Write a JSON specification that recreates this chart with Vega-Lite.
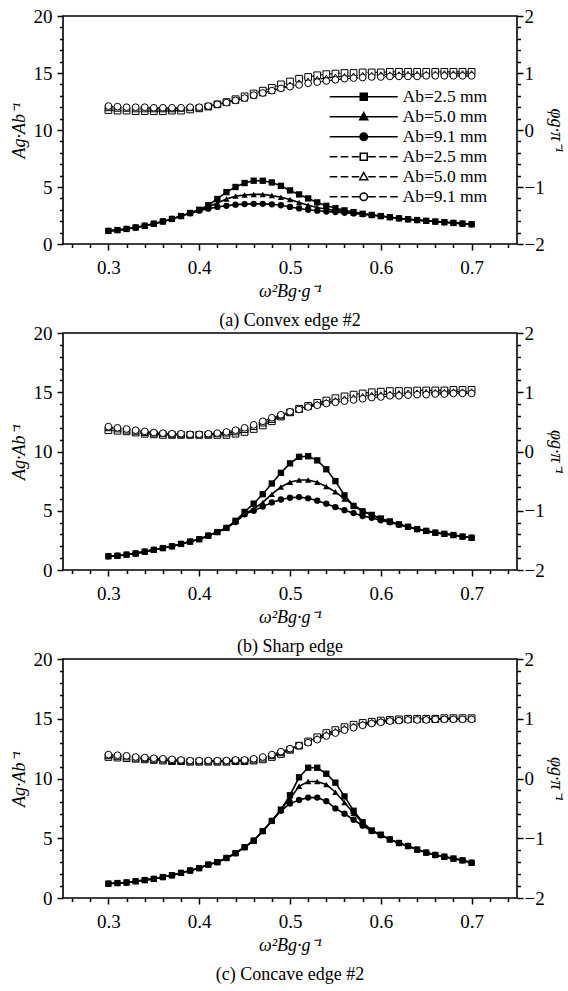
{
"$schema": "https://vega.github.io/schema/vega-lite/v6.json",
"padding": {"left": 9, "top": 6, "right": 3, "bottom": 4},
"background": "white",
"spacing": 89,
"bounds": "flush",
"config": {
  "font": "Liberation Serif",
  "view": {"stroke": "black", "strokeWidth": 1.6},
  "axis": {"zindex": 1, "ticks": true, "tickOpacity": 1, "labelFont": "Liberation Serif", "labelFontSize": 19, "labelColor": "black", "titleFont": "Liberation Serif", "titleFontSize": 18, "titleFontWeight": "normal", "titleFontStyle": "italic", "titleColor": "black", "domainColor": "black", "domainWidth": 1.6, "tickColor": "black", "tickWidth": 1.5, "grid": false},
  "legend": {"labelFont": "Liberation Serif", "labelColor": "black"}
},
"datasets": {
"a": [
{"s":"A2.5","x":0.3,"v":1.15},{"s":"A2.5","x":0.31,"v":1.22},{"s":"A2.5","x":0.32,"v":1.32},{"s":"A2.5","x":0.33,"v":1.45},{"s":"A2.5","x":0.34,"v":1.6},{"s":"A2.5","x":0.35,"v":1.78},{"s":"A2.5","x":0.36,"v":1.98},{"s":"A2.5","x":0.37,"v":2.2},{"s":"A2.5","x":0.38,"v":2.45},{"s":"A2.5","x":0.39,"v":2.72},{"s":"A2.5","x":0.4,"v":3.0},{"s":"A2.5","x":0.41,"v":3.4},{"s":"A2.5","x":0.42,"v":3.95},{"s":"A2.5","x":0.43,"v":4.55},{"s":"A2.5","x":0.44,"v":5.0},{"s":"A2.5","x":0.45,"v":5.35},{"s":"A2.5","x":0.46,"v":5.55},{"s":"A2.5","x":0.47,"v":5.55},{"s":"A2.5","x":0.48,"v":5.4},{"s":"A2.5","x":0.49,"v":5.1},{"s":"A2.5","x":0.5,"v":4.7},{"s":"A2.5","x":0.51,"v":4.35},{"s":"A2.5","x":0.52,"v":4.0},{"s":"A2.5","x":0.53,"v":3.65},{"s":"A2.5","x":0.54,"v":3.35},{"s":"A2.5","x":0.55,"v":3.15},{"s":"A2.5","x":0.56,"v":2.95},{"s":"A2.5","x":0.57,"v":2.8},{"s":"A2.5","x":0.58,"v":2.65},{"s":"A2.5","x":0.59,"v":2.55},{"s":"A2.5","x":0.6,"v":2.45},{"s":"A2.5","x":0.61,"v":2.35},{"s":"A2.5","x":0.62,"v":2.25},{"s":"A2.5","x":0.63,"v":2.17},{"s":"A2.5","x":0.64,"v":2.1},{"s":"A2.5","x":0.65,"v":2.03},{"s":"A2.5","x":0.66,"v":1.97},{"s":"A2.5","x":0.67,"v":1.91},{"s":"A2.5","x":0.68,"v":1.85},{"s":"A2.5","x":0.69,"v":1.79},{"s":"A2.5","x":0.7,"v":1.73},
{"s":"A5.0","x":0.3,"v":1.15},{"s":"A5.0","x":0.31,"v":1.22},{"s":"A5.0","x":0.32,"v":1.32},{"s":"A5.0","x":0.33,"v":1.45},{"s":"A5.0","x":0.34,"v":1.6},{"s":"A5.0","x":0.35,"v":1.78},{"s":"A5.0","x":0.36,"v":1.98},{"s":"A5.0","x":0.37,"v":2.2},{"s":"A5.0","x":0.38,"v":2.45},{"s":"A5.0","x":0.39,"v":2.72},{"s":"A5.0","x":0.4,"v":2.98},{"s":"A5.0","x":0.41,"v":3.25},{"s":"A5.0","x":0.42,"v":3.6},{"s":"A5.0","x":0.43,"v":3.95},{"s":"A5.0","x":0.44,"v":4.2},{"s":"A5.0","x":0.45,"v":4.3},{"s":"A5.0","x":0.46,"v":4.35},{"s":"A5.0","x":0.47,"v":4.35},{"s":"A5.0","x":0.48,"v":4.25},{"s":"A5.0","x":0.49,"v":4.1},{"s":"A5.0","x":0.5,"v":3.9},{"s":"A5.0","x":0.51,"v":3.65},{"s":"A5.0","x":0.52,"v":3.4},{"s":"A5.0","x":0.53,"v":3.2},{"s":"A5.0","x":0.54,"v":3.05},{"s":"A5.0","x":0.55,"v":2.95},{"s":"A5.0","x":0.56,"v":2.85},{"s":"A5.0","x":0.57,"v":2.75},{"s":"A5.0","x":0.58,"v":2.65},{"s":"A5.0","x":0.59,"v":2.55},{"s":"A5.0","x":0.6,"v":2.45},{"s":"A5.0","x":0.61,"v":2.35},{"s":"A5.0","x":0.62,"v":2.25},{"s":"A5.0","x":0.63,"v":2.17},{"s":"A5.0","x":0.64,"v":2.1},{"s":"A5.0","x":0.65,"v":2.03},{"s":"A5.0","x":0.66,"v":1.97},{"s":"A5.0","x":0.67,"v":1.91},{"s":"A5.0","x":0.68,"v":1.85},{"s":"A5.0","x":0.69,"v":1.79},{"s":"A5.0","x":0.7,"v":1.73},
{"s":"A9.1","x":0.3,"v":1.15},{"s":"A9.1","x":0.31,"v":1.22},{"s":"A9.1","x":0.32,"v":1.32},{"s":"A9.1","x":0.33,"v":1.45},{"s":"A9.1","x":0.34,"v":1.6},{"s":"A9.1","x":0.35,"v":1.78},{"s":"A9.1","x":0.36,"v":1.98},{"s":"A9.1","x":0.37,"v":2.2},{"s":"A9.1","x":0.38,"v":2.45},{"s":"A9.1","x":0.39,"v":2.7},{"s":"A9.1","x":0.4,"v":2.92},{"s":"A9.1","x":0.41,"v":3.1},{"s":"A9.1","x":0.42,"v":3.25},{"s":"A9.1","x":0.43,"v":3.35},{"s":"A9.1","x":0.44,"v":3.45},{"s":"A9.1","x":0.45,"v":3.5},{"s":"A9.1","x":0.46,"v":3.52},{"s":"A9.1","x":0.47,"v":3.52},{"s":"A9.1","x":0.48,"v":3.48},{"s":"A9.1","x":0.49,"v":3.4},{"s":"A9.1","x":0.5,"v":3.25},{"s":"A9.1","x":0.51,"v":3.12},{"s":"A9.1","x":0.52,"v":3.0},{"s":"A9.1","x":0.53,"v":2.92},{"s":"A9.1","x":0.54,"v":2.85},{"s":"A9.1","x":0.55,"v":2.8},{"s":"A9.1","x":0.56,"v":2.74},{"s":"A9.1","x":0.57,"v":2.68},{"s":"A9.1","x":0.58,"v":2.62},{"s":"A9.1","x":0.59,"v":2.53},{"s":"A9.1","x":0.6,"v":2.45},{"s":"A9.1","x":0.61,"v":2.35},{"s":"A9.1","x":0.62,"v":2.25},{"s":"A9.1","x":0.63,"v":2.17},{"s":"A9.1","x":0.64,"v":2.1},{"s":"A9.1","x":0.65,"v":2.03},{"s":"A9.1","x":0.66,"v":1.97},{"s":"A9.1","x":0.67,"v":1.91},{"s":"A9.1","x":0.68,"v":1.85},{"s":"A9.1","x":0.69,"v":1.79},{"s":"A9.1","x":0.7,"v":1.73},
{"s":"P2.5","x":0.3,"v":0.35},{"s":"P2.5","x":0.31,"v":0.34},{"s":"P2.5","x":0.32,"v":0.34},{"s":"P2.5","x":0.33,"v":0.33},{"s":"P2.5","x":0.34,"v":0.33},{"s":"P2.5","x":0.35,"v":0.33},{"s":"P2.5","x":0.36,"v":0.33},{"s":"P2.5","x":0.37,"v":0.34},{"s":"P2.5","x":0.38,"v":0.34},{"s":"P2.5","x":0.39,"v":0.36},{"s":"P2.5","x":0.4,"v":0.38},{"s":"P2.5","x":0.41,"v":0.41},{"s":"P2.5","x":0.42,"v":0.45},{"s":"P2.5","x":0.43,"v":0.49},{"s":"P2.5","x":0.44,"v":0.54},{"s":"P2.5","x":0.45,"v":0.59},{"s":"P2.5","x":0.46,"v":0.64},{"s":"P2.5","x":0.47,"v":0.69},{"s":"P2.5","x":0.48,"v":0.74},{"s":"P2.5","x":0.49,"v":0.8},{"s":"P2.5","x":0.5,"v":0.85},{"s":"P2.5","x":0.51,"v":0.9},{"s":"P2.5","x":0.52,"v":0.93},{"s":"P2.5","x":0.53,"v":0.96},{"s":"P2.5","x":0.54,"v":0.98},{"s":"P2.5","x":0.55,"v":0.99},{"s":"P2.5","x":0.56,"v":1.0},{"s":"P2.5","x":0.57,"v":1.0},{"s":"P2.5","x":0.58,"v":1.01},{"s":"P2.5","x":0.59,"v":1.01},{"s":"P2.5","x":0.6,"v":1.01},{"s":"P2.5","x":0.61,"v":1.02},{"s":"P2.5","x":0.62,"v":1.02},{"s":"P2.5","x":0.63,"v":1.02},{"s":"P2.5","x":0.64,"v":1.02},{"s":"P2.5","x":0.65,"v":1.02},{"s":"P2.5","x":0.66,"v":1.02},{"s":"P2.5","x":0.67,"v":1.02},{"s":"P2.5","x":0.68,"v":1.02},{"s":"P2.5","x":0.69,"v":1.02},{"s":"P2.5","x":0.7,"v":1.02},
{"s":"P5.0","x":0.3,"v":0.39},{"s":"P5.0","x":0.31,"v":0.38},{"s":"P5.0","x":0.32,"v":0.38},{"s":"P5.0","x":0.33,"v":0.37},{"s":"P5.0","x":0.34,"v":0.37},{"s":"P5.0","x":0.35,"v":0.37},{"s":"P5.0","x":0.36,"v":0.37},{"s":"P5.0","x":0.37,"v":0.37},{"s":"P5.0","x":0.38,"v":0.38},{"s":"P5.0","x":0.39,"v":0.39},{"s":"P5.0","x":0.4,"v":0.4},{"s":"P5.0","x":0.41,"v":0.42},{"s":"P5.0","x":0.42,"v":0.45},{"s":"P5.0","x":0.43,"v":0.48},{"s":"P5.0","x":0.44,"v":0.52},{"s":"P5.0","x":0.45,"v":0.56},{"s":"P5.0","x":0.46,"v":0.61},{"s":"P5.0","x":0.47,"v":0.65},{"s":"P5.0","x":0.48,"v":0.69},{"s":"P5.0","x":0.49,"v":0.74},{"s":"P5.0","x":0.5,"v":0.79},{"s":"P5.0","x":0.51,"v":0.83},{"s":"P5.0","x":0.52,"v":0.86},{"s":"P5.0","x":0.53,"v":0.89},{"s":"P5.0","x":0.54,"v":0.91},{"s":"P5.0","x":0.55,"v":0.93},{"s":"P5.0","x":0.56,"v":0.94},{"s":"P5.0","x":0.57,"v":0.95},{"s":"P5.0","x":0.58,"v":0.96},{"s":"P5.0","x":0.59,"v":0.96},{"s":"P5.0","x":0.6,"v":0.97},{"s":"P5.0","x":0.61,"v":0.97},{"s":"P5.0","x":0.62,"v":0.97},{"s":"P5.0","x":0.63,"v":0.98},{"s":"P5.0","x":0.64,"v":0.98},{"s":"P5.0","x":0.65,"v":0.98},{"s":"P5.0","x":0.66,"v":0.98},{"s":"P5.0","x":0.67,"v":0.99},{"s":"P5.0","x":0.68,"v":0.99},{"s":"P5.0","x":0.69,"v":0.99},{"s":"P5.0","x":0.7,"v":0.99},
{"s":"P9.1","x":0.3,"v":0.42},{"s":"P9.1","x":0.31,"v":0.41},{"s":"P9.1","x":0.32,"v":0.4},{"s":"P9.1","x":0.33,"v":0.4},{"s":"P9.1","x":0.34,"v":0.4},{"s":"P9.1","x":0.35,"v":0.39},{"s":"P9.1","x":0.36,"v":0.39},{"s":"P9.1","x":0.37,"v":0.39},{"s":"P9.1","x":0.38,"v":0.39},{"s":"P9.1","x":0.39,"v":0.4},{"s":"P9.1","x":0.4,"v":0.4},{"s":"P9.1","x":0.41,"v":0.42},{"s":"P9.1","x":0.42,"v":0.45},{"s":"P9.1","x":0.43,"v":0.48},{"s":"P9.1","x":0.44,"v":0.52},{"s":"P9.1","x":0.45,"v":0.56},{"s":"P9.1","x":0.46,"v":0.61},{"s":"P9.1","x":0.47,"v":0.65},{"s":"P9.1","x":0.48,"v":0.69},{"s":"P9.1","x":0.49,"v":0.73},{"s":"P9.1","x":0.5,"v":0.76},{"s":"P9.1","x":0.51,"v":0.79},{"s":"P9.1","x":0.52,"v":0.82},{"s":"P9.1","x":0.53,"v":0.84},{"s":"P9.1","x":0.54,"v":0.86},{"s":"P9.1","x":0.55,"v":0.88},{"s":"P9.1","x":0.56,"v":0.9},{"s":"P9.1","x":0.57,"v":0.91},{"s":"P9.1","x":0.58,"v":0.92},{"s":"P9.1","x":0.59,"v":0.93},{"s":"P9.1","x":0.6,"v":0.93},{"s":"P9.1","x":0.61,"v":0.94},{"s":"P9.1","x":0.62,"v":0.94},{"s":"P9.1","x":0.63,"v":0.94},{"s":"P9.1","x":0.64,"v":0.94},{"s":"P9.1","x":0.65,"v":0.95},{"s":"P9.1","x":0.66,"v":0.95},{"s":"P9.1","x":0.67,"v":0.95},{"s":"P9.1","x":0.68,"v":0.95},{"s":"P9.1","x":0.69,"v":0.95},{"s":"P9.1","x":0.7,"v":0.95}
],
"b": [
{"s":"A2.5","x":0.3,"v":1.16},{"s":"A2.5","x":0.31,"v":1.2},{"s":"A2.5","x":0.32,"v":1.3},{"s":"A2.5","x":0.33,"v":1.4},{"s":"A2.5","x":0.34,"v":1.55},{"s":"A2.5","x":0.35,"v":1.7},{"s":"A2.5","x":0.36,"v":1.85},{"s":"A2.5","x":0.37,"v":2.0},{"s":"A2.5","x":0.38,"v":2.2},{"s":"A2.5","x":0.39,"v":2.4},{"s":"A2.5","x":0.4,"v":2.6},{"s":"A2.5","x":0.41,"v":2.9},{"s":"A2.5","x":0.42,"v":3.2},{"s":"A2.5","x":0.43,"v":3.55},{"s":"A2.5","x":0.44,"v":4.15},{"s":"A2.5","x":0.45,"v":4.9},{"s":"A2.5","x":0.46,"v":5.6},{"s":"A2.5","x":0.47,"v":6.4},{"s":"A2.5","x":0.48,"v":7.3},{"s":"A2.5","x":0.49,"v":8.2},{"s":"A2.5","x":0.5,"v":9.0},{"s":"A2.5","x":0.51,"v":9.55},{"s":"A2.5","x":0.52,"v":9.6},{"s":"A2.5","x":0.53,"v":9.25},{"s":"A2.5","x":0.54,"v":8.5},{"s":"A2.5","x":0.55,"v":7.5},{"s":"A2.5","x":0.56,"v":6.3},{"s":"A2.5","x":0.57,"v":5.4},{"s":"A2.5","x":0.58,"v":4.95},{"s":"A2.5","x":0.59,"v":4.65},{"s":"A2.5","x":0.6,"v":4.35},{"s":"A2.5","x":0.61,"v":4.1},{"s":"A2.5","x":0.62,"v":3.85},{"s":"A2.5","x":0.63,"v":3.65},{"s":"A2.5","x":0.64,"v":3.45},{"s":"A2.5","x":0.65,"v":3.3},{"s":"A2.5","x":0.66,"v":3.15},{"s":"A2.5","x":0.67,"v":3.05},{"s":"A2.5","x":0.68,"v":2.95},{"s":"A2.5","x":0.69,"v":2.82},{"s":"A2.5","x":0.7,"v":2.72},
{"s":"A5.0","x":0.3,"v":1.16},{"s":"A5.0","x":0.31,"v":1.2},{"s":"A5.0","x":0.32,"v":1.3},{"s":"A5.0","x":0.33,"v":1.4},{"s":"A5.0","x":0.34,"v":1.55},{"s":"A5.0","x":0.35,"v":1.7},{"s":"A5.0","x":0.36,"v":1.85},{"s":"A5.0","x":0.37,"v":2.0},{"s":"A5.0","x":0.38,"v":2.2},{"s":"A5.0","x":0.39,"v":2.4},{"s":"A5.0","x":0.4,"v":2.6},{"s":"A5.0","x":0.41,"v":2.9},{"s":"A5.0","x":0.42,"v":3.2},{"s":"A5.0","x":0.43,"v":3.55},{"s":"A5.0","x":0.44,"v":4.1},{"s":"A5.0","x":0.45,"v":4.75},{"s":"A5.0","x":0.46,"v":5.15},{"s":"A5.0","x":0.47,"v":5.7},{"s":"A5.0","x":0.48,"v":6.4},{"s":"A5.0","x":0.49,"v":7.0},{"s":"A5.0","x":0.5,"v":7.4},{"s":"A5.0","x":0.51,"v":7.6},{"s":"A5.0","x":0.52,"v":7.6},{"s":"A5.0","x":0.53,"v":7.4},{"s":"A5.0","x":0.54,"v":7.05},{"s":"A5.0","x":0.55,"v":6.6},{"s":"A5.0","x":0.56,"v":6.0},{"s":"A5.0","x":0.57,"v":5.5},{"s":"A5.0","x":0.58,"v":5.0},{"s":"A5.0","x":0.59,"v":4.65},{"s":"A5.0","x":0.6,"v":4.35},{"s":"A5.0","x":0.61,"v":4.1},{"s":"A5.0","x":0.62,"v":3.85},{"s":"A5.0","x":0.63,"v":3.65},{"s":"A5.0","x":0.64,"v":3.45},{"s":"A5.0","x":0.65,"v":3.3},{"s":"A5.0","x":0.66,"v":3.15},{"s":"A5.0","x":0.67,"v":3.05},{"s":"A5.0","x":0.68,"v":2.95},{"s":"A5.0","x":0.69,"v":2.82},{"s":"A5.0","x":0.7,"v":2.72},
{"s":"A9.1","x":0.3,"v":1.16},{"s":"A9.1","x":0.31,"v":1.2},{"s":"A9.1","x":0.32,"v":1.3},{"s":"A9.1","x":0.33,"v":1.4},{"s":"A9.1","x":0.34,"v":1.55},{"s":"A9.1","x":0.35,"v":1.7},{"s":"A9.1","x":0.36,"v":1.85},{"s":"A9.1","x":0.37,"v":2.0},{"s":"A9.1","x":0.38,"v":2.2},{"s":"A9.1","x":0.39,"v":2.4},{"s":"A9.1","x":0.4,"v":2.6},{"s":"A9.1","x":0.41,"v":2.9},{"s":"A9.1","x":0.42,"v":3.2},{"s":"A9.1","x":0.43,"v":3.55},{"s":"A9.1","x":0.44,"v":4.05},{"s":"A9.1","x":0.45,"v":4.7},{"s":"A9.1","x":0.46,"v":5.0},{"s":"A9.1","x":0.47,"v":5.35},{"s":"A9.1","x":0.48,"v":5.7},{"s":"A9.1","x":0.49,"v":5.95},{"s":"A9.1","x":0.5,"v":6.1},{"s":"A9.1","x":0.51,"v":6.15},{"s":"A9.1","x":0.52,"v":6.05},{"s":"A9.1","x":0.53,"v":5.85},{"s":"A9.1","x":0.54,"v":5.6},{"s":"A9.1","x":0.55,"v":5.3},{"s":"A9.1","x":0.56,"v":5.05},{"s":"A9.1","x":0.57,"v":4.8},{"s":"A9.1","x":0.58,"v":4.55},{"s":"A9.1","x":0.59,"v":4.4},{"s":"A9.1","x":0.6,"v":4.2},{"s":"A9.1","x":0.61,"v":4.02},{"s":"A9.1","x":0.62,"v":3.82},{"s":"A9.1","x":0.63,"v":3.64},{"s":"A9.1","x":0.64,"v":3.45},{"s":"A9.1","x":0.65,"v":3.3},{"s":"A9.1","x":0.66,"v":3.15},{"s":"A9.1","x":0.67,"v":3.05},{"s":"A9.1","x":0.68,"v":2.95},{"s":"A9.1","x":0.69,"v":2.82},{"s":"A9.1","x":0.7,"v":2.72},
{"s":"P2.5","x":0.3,"v":0.36},{"s":"P2.5","x":0.31,"v":0.35},{"s":"P2.5","x":0.32,"v":0.34},{"s":"P2.5","x":0.33,"v":0.32},{"s":"P2.5","x":0.34,"v":0.3},{"s":"P2.5","x":0.35,"v":0.29},{"s":"P2.5","x":0.36,"v":0.28},{"s":"P2.5","x":0.37,"v":0.28},{"s":"P2.5","x":0.38,"v":0.28},{"s":"P2.5","x":0.39,"v":0.28},{"s":"P2.5","x":0.4,"v":0.28},{"s":"P2.5","x":0.41,"v":0.28},{"s":"P2.5","x":0.42,"v":0.28},{"s":"P2.5","x":0.43,"v":0.28},{"s":"P2.5","x":0.44,"v":0.3},{"s":"P2.5","x":0.45,"v":0.33},{"s":"P2.5","x":0.46,"v":0.38},{"s":"P2.5","x":0.47,"v":0.44},{"s":"P2.5","x":0.48,"v":0.51},{"s":"P2.5","x":0.49,"v":0.59},{"s":"P2.5","x":0.5,"v":0.66},{"s":"P2.5","x":0.51,"v":0.72},{"s":"P2.5","x":0.52,"v":0.77},{"s":"P2.5","x":0.53,"v":0.82},{"s":"P2.5","x":0.54,"v":0.86},{"s":"P2.5","x":0.55,"v":0.9},{"s":"P2.5","x":0.56,"v":0.93},{"s":"P2.5","x":0.57,"v":0.96},{"s":"P2.5","x":0.58,"v":0.98},{"s":"P2.5","x":0.59,"v":1.0},{"s":"P2.5","x":0.6,"v":1.01},{"s":"P2.5","x":0.61,"v":1.02},{"s":"P2.5","x":0.62,"v":1.02},{"s":"P2.5","x":0.63,"v":1.02},{"s":"P2.5","x":0.64,"v":1.03},{"s":"P2.5","x":0.65,"v":1.03},{"s":"P2.5","x":0.66,"v":1.03},{"s":"P2.5","x":0.67,"v":1.03},{"s":"P2.5","x":0.68,"v":1.04},{"s":"P2.5","x":0.69,"v":1.04},{"s":"P2.5","x":0.7,"v":1.04},
{"s":"P5.0","x":0.3,"v":0.4},{"s":"P5.0","x":0.31,"v":0.38},{"s":"P5.0","x":0.32,"v":0.36},{"s":"P5.0","x":0.33,"v":0.34},{"s":"P5.0","x":0.34,"v":0.32},{"s":"P5.0","x":0.35,"v":0.31},{"s":"P5.0","x":0.36,"v":0.3},{"s":"P5.0","x":0.37,"v":0.29},{"s":"P5.0","x":0.38,"v":0.29},{"s":"P5.0","x":0.39,"v":0.29},{"s":"P5.0","x":0.4,"v":0.29},{"s":"P5.0","x":0.41,"v":0.29},{"s":"P5.0","x":0.42,"v":0.3},{"s":"P5.0","x":0.43,"v":0.31},{"s":"P5.0","x":0.44,"v":0.33},{"s":"P5.0","x":0.45,"v":0.37},{"s":"P5.0","x":0.46,"v":0.42},{"s":"P5.0","x":0.47,"v":0.48},{"s":"P5.0","x":0.48,"v":0.54},{"s":"P5.0","x":0.49,"v":0.6},{"s":"P5.0","x":0.5,"v":0.66},{"s":"P5.0","x":0.51,"v":0.71},{"s":"P5.0","x":0.52,"v":0.76},{"s":"P5.0","x":0.53,"v":0.8},{"s":"P5.0","x":0.54,"v":0.83},{"s":"P5.0","x":0.55,"v":0.86},{"s":"P5.0","x":0.56,"v":0.89},{"s":"P5.0","x":0.57,"v":0.91},{"s":"P5.0","x":0.58,"v":0.93},{"s":"P5.0","x":0.59,"v":0.95},{"s":"P5.0","x":0.6,"v":0.96},{"s":"P5.0","x":0.61,"v":0.97},{"s":"P5.0","x":0.62,"v":0.98},{"s":"P5.0","x":0.63,"v":0.99},{"s":"P5.0","x":0.64,"v":0.99},{"s":"P5.0","x":0.65,"v":1.0},{"s":"P5.0","x":0.66,"v":1.0},{"s":"P5.0","x":0.67,"v":1.0},{"s":"P5.0","x":0.68,"v":1.01},{"s":"P5.0","x":0.69,"v":1.01},{"s":"P5.0","x":0.7,"v":1.01},
{"s":"P9.1","x":0.3,"v":0.42},{"s":"P9.1","x":0.31,"v":0.4},{"s":"P9.1","x":0.32,"v":0.38},{"s":"P9.1","x":0.33,"v":0.36},{"s":"P9.1","x":0.34,"v":0.34},{"s":"P9.1","x":0.35,"v":0.32},{"s":"P9.1","x":0.36,"v":0.31},{"s":"P9.1","x":0.37,"v":0.3},{"s":"P9.1","x":0.38,"v":0.3},{"s":"P9.1","x":0.39,"v":0.29},{"s":"P9.1","x":0.4,"v":0.29},{"s":"P9.1","x":0.41,"v":0.3},{"s":"P9.1","x":0.42,"v":0.31},{"s":"P9.1","x":0.43,"v":0.33},{"s":"P9.1","x":0.44,"v":0.36},{"s":"P9.1","x":0.45,"v":0.4},{"s":"P9.1","x":0.46,"v":0.45},{"s":"P9.1","x":0.47,"v":0.51},{"s":"P9.1","x":0.48,"v":0.57},{"s":"P9.1","x":0.49,"v":0.62},{"s":"P9.1","x":0.5,"v":0.67},{"s":"P9.1","x":0.51,"v":0.71},{"s":"P9.1","x":0.52,"v":0.75},{"s":"P9.1","x":0.53,"v":0.78},{"s":"P9.1","x":0.54,"v":0.81},{"s":"P9.1","x":0.55,"v":0.83},{"s":"P9.1","x":0.56,"v":0.85},{"s":"P9.1","x":0.57,"v":0.87},{"s":"P9.1","x":0.58,"v":0.89},{"s":"P9.1","x":0.59,"v":0.91},{"s":"P9.1","x":0.6,"v":0.92},{"s":"P9.1","x":0.61,"v":0.94},{"s":"P9.1","x":0.62,"v":0.94},{"s":"P9.1","x":0.63,"v":0.95},{"s":"P9.1","x":0.64,"v":0.96},{"s":"P9.1","x":0.65,"v":0.96},{"s":"P9.1","x":0.66,"v":0.97},{"s":"P9.1","x":0.67,"v":0.97},{"s":"P9.1","x":0.68,"v":0.98},{"s":"P9.1","x":0.69,"v":0.98},{"s":"P9.1","x":0.7,"v":0.98}
],
"c": [
{"s":"A2.5","x":0.3,"v":1.2},{"s":"A2.5","x":0.31,"v":1.25},{"s":"A2.5","x":0.32,"v":1.3},{"s":"A2.5","x":0.33,"v":1.4},{"s":"A2.5","x":0.34,"v":1.5},{"s":"A2.5","x":0.35,"v":1.6},{"s":"A2.5","x":0.36,"v":1.75},{"s":"A2.5","x":0.37,"v":1.9},{"s":"A2.5","x":0.38,"v":2.1},{"s":"A2.5","x":0.39,"v":2.3},{"s":"A2.5","x":0.4,"v":2.5},{"s":"A2.5","x":0.41,"v":2.8},{"s":"A2.5","x":0.42,"v":3.0},{"s":"A2.5","x":0.43,"v":3.35},{"s":"A2.5","x":0.44,"v":3.75},{"s":"A2.5","x":0.45,"v":4.25},{"s":"A2.5","x":0.46,"v":4.8},{"s":"A2.5","x":0.47,"v":5.6},{"s":"A2.5","x":0.48,"v":6.45},{"s":"A2.5","x":0.49,"v":7.4},{"s":"A2.5","x":0.5,"v":8.6},{"s":"A2.5","x":0.51,"v":10.1},{"s":"A2.5","x":0.52,"v":10.9},{"s":"A2.5","x":0.53,"v":10.9},{"s":"A2.5","x":0.54,"v":10.4},{"s":"A2.5","x":0.55,"v":9.65},{"s":"A2.5","x":0.56,"v":8.5},{"s":"A2.5","x":0.57,"v":7.3},{"s":"A2.5","x":0.58,"v":6.35},{"s":"A2.5","x":0.59,"v":5.65},{"s":"A2.5","x":0.6,"v":5.3},{"s":"A2.5","x":0.61,"v":4.9},{"s":"A2.5","x":0.62,"v":4.6},{"s":"A2.5","x":0.63,"v":4.35},{"s":"A2.5","x":0.64,"v":4.05},{"s":"A2.5","x":0.65,"v":3.8},{"s":"A2.5","x":0.66,"v":3.6},{"s":"A2.5","x":0.67,"v":3.45},{"s":"A2.5","x":0.68,"v":3.3},{"s":"A2.5","x":0.69,"v":3.15},{"s":"A2.5","x":0.7,"v":2.95},
{"s":"A5.0","x":0.3,"v":1.2},{"s":"A5.0","x":0.31,"v":1.25},{"s":"A5.0","x":0.32,"v":1.3},{"s":"A5.0","x":0.33,"v":1.4},{"s":"A5.0","x":0.34,"v":1.5},{"s":"A5.0","x":0.35,"v":1.6},{"s":"A5.0","x":0.36,"v":1.75},{"s":"A5.0","x":0.37,"v":1.9},{"s":"A5.0","x":0.38,"v":2.1},{"s":"A5.0","x":0.39,"v":2.3},{"s":"A5.0","x":0.4,"v":2.5},{"s":"A5.0","x":0.41,"v":2.8},{"s":"A5.0","x":0.42,"v":3.0},{"s":"A5.0","x":0.43,"v":3.35},{"s":"A5.0","x":0.44,"v":3.75},{"s":"A5.0","x":0.45,"v":4.25},{"s":"A5.0","x":0.46,"v":4.8},{"s":"A5.0","x":0.47,"v":5.6},{"s":"A5.0","x":0.48,"v":6.45},{"s":"A5.0","x":0.49,"v":7.4},{"s":"A5.0","x":0.5,"v":8.3},{"s":"A5.0","x":0.51,"v":9.35},{"s":"A5.0","x":0.52,"v":9.75},{"s":"A5.0","x":0.53,"v":9.75},{"s":"A5.0","x":0.54,"v":9.5},{"s":"A5.0","x":0.55,"v":8.85},{"s":"A5.0","x":0.56,"v":8.0},{"s":"A5.0","x":0.57,"v":7.1},{"s":"A5.0","x":0.58,"v":6.3},{"s":"A5.0","x":0.59,"v":5.65},{"s":"A5.0","x":0.6,"v":5.3},{"s":"A5.0","x":0.61,"v":4.9},{"s":"A5.0","x":0.62,"v":4.6},{"s":"A5.0","x":0.63,"v":4.35},{"s":"A5.0","x":0.64,"v":4.05},{"s":"A5.0","x":0.65,"v":3.8},{"s":"A5.0","x":0.66,"v":3.6},{"s":"A5.0","x":0.67,"v":3.45},{"s":"A5.0","x":0.68,"v":3.3},{"s":"A5.0","x":0.69,"v":3.15},{"s":"A5.0","x":0.7,"v":2.95},
{"s":"A9.1","x":0.3,"v":1.2},{"s":"A9.1","x":0.31,"v":1.25},{"s":"A9.1","x":0.32,"v":1.3},{"s":"A9.1","x":0.33,"v":1.4},{"s":"A9.1","x":0.34,"v":1.5},{"s":"A9.1","x":0.35,"v":1.6},{"s":"A9.1","x":0.36,"v":1.75},{"s":"A9.1","x":0.37,"v":1.9},{"s":"A9.1","x":0.38,"v":2.1},{"s":"A9.1","x":0.39,"v":2.3},{"s":"A9.1","x":0.4,"v":2.5},{"s":"A9.1","x":0.41,"v":2.8},{"s":"A9.1","x":0.42,"v":3.0},{"s":"A9.1","x":0.43,"v":3.35},{"s":"A9.1","x":0.44,"v":3.75},{"s":"A9.1","x":0.45,"v":4.25},{"s":"A9.1","x":0.46,"v":4.8},{"s":"A9.1","x":0.47,"v":5.6},{"s":"A9.1","x":0.48,"v":6.45},{"s":"A9.1","x":0.49,"v":7.3},{"s":"A9.1","x":0.5,"v":7.9},{"s":"A9.1","x":0.51,"v":8.2},{"s":"A9.1","x":0.52,"v":8.4},{"s":"A9.1","x":0.53,"v":8.4},{"s":"A9.1","x":0.54,"v":8.1},{"s":"A9.1","x":0.55,"v":7.5},{"s":"A9.1","x":0.56,"v":7.05},{"s":"A9.1","x":0.57,"v":6.55},{"s":"A9.1","x":0.58,"v":6.05},{"s":"A9.1","x":0.59,"v":5.6},{"s":"A9.1","x":0.6,"v":5.25},{"s":"A9.1","x":0.61,"v":4.9},{"s":"A9.1","x":0.62,"v":4.6},{"s":"A9.1","x":0.63,"v":4.35},{"s":"A9.1","x":0.64,"v":4.05},{"s":"A9.1","x":0.65,"v":3.8},{"s":"A9.1","x":0.66,"v":3.6},{"s":"A9.1","x":0.67,"v":3.45},{"s":"A9.1","x":0.68,"v":3.3},{"s":"A9.1","x":0.69,"v":3.15},{"s":"A9.1","x":0.7,"v":2.95},
{"s":"P2.5","x":0.3,"v":0.36},{"s":"P2.5","x":0.31,"v":0.35},{"s":"P2.5","x":0.32,"v":0.34},{"s":"P2.5","x":0.33,"v":0.33},{"s":"P2.5","x":0.34,"v":0.32},{"s":"P2.5","x":0.35,"v":0.31},{"s":"P2.5","x":0.36,"v":0.3},{"s":"P2.5","x":0.37,"v":0.29},{"s":"P2.5","x":0.38,"v":0.29},{"s":"P2.5","x":0.39,"v":0.28},{"s":"P2.5","x":0.4,"v":0.28},{"s":"P2.5","x":0.41,"v":0.28},{"s":"P2.5","x":0.42,"v":0.28},{"s":"P2.5","x":0.43,"v":0.28},{"s":"P2.5","x":0.44,"v":0.29},{"s":"P2.5","x":0.45,"v":0.29},{"s":"P2.5","x":0.46,"v":0.3},{"s":"P2.5","x":0.47,"v":0.32},{"s":"P2.5","x":0.48,"v":0.36},{"s":"P2.5","x":0.49,"v":0.41},{"s":"P2.5","x":0.5,"v":0.48},{"s":"P2.5","x":0.51,"v":0.55},{"s":"P2.5","x":0.52,"v":0.62},{"s":"P2.5","x":0.53,"v":0.69},{"s":"P2.5","x":0.54,"v":0.76},{"s":"P2.5","x":0.55,"v":0.81},{"s":"P2.5","x":0.56,"v":0.86},{"s":"P2.5","x":0.57,"v":0.9},{"s":"P2.5","x":0.58,"v":0.93},{"s":"P2.5","x":0.59,"v":0.95},{"s":"P2.5","x":0.6,"v":0.97},{"s":"P2.5","x":0.61,"v":0.98},{"s":"P2.5","x":0.62,"v":0.99},{"s":"P2.5","x":0.63,"v":1.0},{"s":"P2.5","x":0.64,"v":1.0},{"s":"P2.5","x":0.65,"v":1.0},{"s":"P2.5","x":0.66,"v":1.0},{"s":"P2.5","x":0.67,"v":1.01},{"s":"P2.5","x":0.68,"v":1.01},{"s":"P2.5","x":0.69,"v":1.01},{"s":"P2.5","x":0.7,"v":1.01},
{"s":"P5.0","x":0.3,"v":0.38},{"s":"P5.0","x":0.31,"v":0.37},{"s":"P5.0","x":0.32,"v":0.36},{"s":"P5.0","x":0.33,"v":0.34},{"s":"P5.0","x":0.34,"v":0.33},{"s":"P5.0","x":0.35,"v":0.32},{"s":"P5.0","x":0.36,"v":0.31},{"s":"P5.0","x":0.37,"v":0.3},{"s":"P5.0","x":0.38,"v":0.3},{"s":"P5.0","x":0.39,"v":0.29},{"s":"P5.0","x":0.4,"v":0.29},{"s":"P5.0","x":0.41,"v":0.29},{"s":"P5.0","x":0.42,"v":0.29},{"s":"P5.0","x":0.43,"v":0.29},{"s":"P5.0","x":0.44,"v":0.3},{"s":"P5.0","x":0.45,"v":0.3},{"s":"P5.0","x":0.46,"v":0.31},{"s":"P5.0","x":0.47,"v":0.34},{"s":"P5.0","x":0.48,"v":0.38},{"s":"P5.0","x":0.49,"v":0.43},{"s":"P5.0","x":0.5,"v":0.49},{"s":"P5.0","x":0.51,"v":0.55},{"s":"P5.0","x":0.52,"v":0.61},{"s":"P5.0","x":0.53,"v":0.67},{"s":"P5.0","x":0.54,"v":0.74},{"s":"P5.0","x":0.55,"v":0.79},{"s":"P5.0","x":0.56,"v":0.84},{"s":"P5.0","x":0.57,"v":0.88},{"s":"P5.0","x":0.58,"v":0.91},{"s":"P5.0","x":0.59,"v":0.94},{"s":"P5.0","x":0.6,"v":0.96},{"s":"P5.0","x":0.61,"v":0.97},{"s":"P5.0","x":0.62,"v":0.98},{"s":"P5.0","x":0.63,"v":0.99},{"s":"P5.0","x":0.64,"v":0.99},{"s":"P5.0","x":0.65,"v":0.99},{"s":"P5.0","x":0.66,"v":0.99},{"s":"P5.0","x":0.67,"v":1.0},{"s":"P5.0","x":0.68,"v":1.0},{"s":"P5.0","x":0.69,"v":1.0},{"s":"P5.0","x":0.7,"v":1.0},
{"s":"P9.1","x":0.3,"v":0.4},{"s":"P9.1","x":0.31,"v":0.39},{"s":"P9.1","x":0.32,"v":0.38},{"s":"P9.1","x":0.33,"v":0.36},{"s":"P9.1","x":0.34,"v":0.35},{"s":"P9.1","x":0.35,"v":0.34},{"s":"P9.1","x":0.36,"v":0.33},{"s":"P9.1","x":0.37,"v":0.32},{"s":"P9.1","x":0.38,"v":0.31},{"s":"P9.1","x":0.39,"v":0.3},{"s":"P9.1","x":0.4,"v":0.3},{"s":"P9.1","x":0.41,"v":0.3},{"s":"P9.1","x":0.42,"v":0.3},{"s":"P9.1","x":0.43,"v":0.3},{"s":"P9.1","x":0.44,"v":0.31},{"s":"P9.1","x":0.45,"v":0.31},{"s":"P9.1","x":0.46,"v":0.33},{"s":"P9.1","x":0.47,"v":0.36},{"s":"P9.1","x":0.48,"v":0.4},{"s":"P9.1","x":0.49,"v":0.45},{"s":"P9.1","x":0.5,"v":0.5},{"s":"P9.1","x":0.51,"v":0.55},{"s":"P9.1","x":0.52,"v":0.6},{"s":"P9.1","x":0.53,"v":0.65},{"s":"P9.1","x":0.54,"v":0.71},{"s":"P9.1","x":0.55,"v":0.76},{"s":"P9.1","x":0.56,"v":0.81},{"s":"P9.1","x":0.57,"v":0.85},{"s":"P9.1","x":0.58,"v":0.89},{"s":"P9.1","x":0.59,"v":0.92},{"s":"P9.1","x":0.6,"v":0.94},{"s":"P9.1","x":0.61,"v":0.96},{"s":"P9.1","x":0.62,"v":0.97},{"s":"P9.1","x":0.63,"v":0.98},{"s":"P9.1","x":0.64,"v":0.98},{"s":"P9.1","x":0.65,"v":0.98},{"s":"P9.1","x":0.66,"v":0.99},{"s":"P9.1","x":0.67,"v":0.99},{"s":"P9.1","x":0.68,"v":0.99},{"s":"P9.1","x":0.69,"v":0.99},{"s":"P9.1","x":0.7,"v":0.99}
]
},
"vconcat": [
{
  "width": 454, "height": 228,
  "data": {"name": "a"},
  "title": {"text": "(a) Convex edge #2", "orient": "bottom", "frame": "group", "font": "Liberation Serif", "fontSize": 18, "fontWeight": "normal", "color": "black", "offset": 12},
  "layer": [
    {"transform": [{"filter": "datum.s[0] == 'A'"}],
     "layer": [
      {"mark": {"type": "line", "color": "black", "strokeWidth": 1.6},
       "encoding": {
        "x": {"field": "x", "type": "quantitative", "scale": {"domain": [0.25, 0.75], "nice": false, "zero": false}, "axis": {"orient": "bottom", "values": [0.3, 0.4, 0.5, 0.6, 0.7], "format": ".1f", "tickSize": 6, "tickColor": "black", "ticks": true, "domain": false, "labelPadding": 8, "title": "ω²Bg·g⁻¹", "titlePadding": 5}},
        "y": {"field": "v", "type": "quantitative", "scale": {"domain": [0, 20], "nice": false}, "axis": {"orient": "left", "values": [0, 5, 10, 15, 20], "tickSize": 6, "tickColor": "black", "ticks": true, "domain": false, "labelPadding": 5, "title": "Ag·Ab⁻¹", "titlePadding": 5}},
        "detail": {"field": "s", "type": "nominal"}}},
      {"mark": {"type": "point", "filled": true, "color": "black", "opacity": 1, "size": 40},
       "encoding": {
        "x": {"field": "x", "type": "quantitative", "axis": {"orient": "bottom", "values": [0.26, 0.28, 0.32, 0.34, 0.36, 0.38, 0.42, 0.44, 0.46, 0.48, 0.52, 0.54, 0.56, 0.58, 0.62, 0.64, 0.66, 0.68, 0.72, 0.74], "tickSize": 3.5, "tickColor": "black", "ticks": true, "labels": false, "domain": false, "title": null}},
        "y": {"field": "v", "type": "quantitative", "axis": {"orient": "left", "values": [1, 2, 3, 4, 6, 7, 8, 9, 11, 12, 13, 14, 16, 17, 18, 19], "tickSize": 3.5, "tickColor": "black", "ticks": true, "labels": false, "domain": false, "title": null}},
        "shape": {"field": "s", "type": "nominal", "scale": {"domain": ["A2.5", "A5.0", "A9.1"], "range": ["square", "triangle-up", "circle"]}, "legend": null}}}
     ],
     "resolve": {"axis": {"x": "independent", "y": "independent"}}},
    {"transform": [{"filter": "datum.s[0] == 'P'"}],
     "layer": [
      {"mark": {"type": "line", "color": "black", "strokeWidth": 1.2, "strokeDash": [5, 3]},
       "encoding": {
        "x": {"field": "x", "type": "quantitative", "axis": null},
        "y": {"field": "v", "type": "quantitative", "scale": {"domain": [-2, 2], "nice": false}, "axis": {"orient": "right", "values": [-2, -1, 0, 1, 2], "tickSize": 6, "tickColor": "black", "ticks": true, "domain": false, "labelPadding": 1, "title": "φg·π⁻¹", "titleAngle": 90, "titlePadding": 2}},
        "detail": {"field": "s", "type": "nominal"}}},
      {"mark": {"type": "point", "filled": true, "fill": "white", "stroke": "black", "strokeWidth": 1, "opacity": 1, "size": 45},
       "encoding": {
        "x": {"field": "x", "type": "quantitative", "axis": null},
        "y": {"field": "v", "type": "quantitative", "axis": {"orient": "right", "values": [-1.8, -1.6, -1.4, -1.2, -0.8, -0.6, -0.4, -0.2, 0.2, 0.4, 0.6, 0.8, 1.2, 1.4, 1.6, 1.8], "tickSize": 3.5, "tickColor": "black", "ticks": true, "labels": false, "domain": false, "title": null}},
        "shape": {"field": "s", "type": "nominal", "scale": {"domain": ["P2.5", "P5.0", "P9.1"], "range": ["square", "triangle-up", "circle"]}, "legend": null}}}
     ],
     "resolve": {"axis": {"y": "independent"}}},
    {"transform": [{"filter": "datum.x > 1"}],
     "mark": {"type": "point", "filled": true, "opacity": 1, "stroke": "black", "strokeWidth": 1.5, "size": 100},
     "encoding": {
      "shape": {"field": "s", "type": "nominal", "scale": {"domain": ["A2.5", "A5.0", "A9.1", "P2.5", "P5.0", "P9.1"], "range": [
        "M-6.8,0H6.8M-0.7,-0.7H0.7V0.7H-0.7Z",
        "M-6.8,0H6.8M0,-0.85L0.8,0.6H-0.8Z",
        "M-6.8,0H6.8M0.75,0A0.75,0.75 0 1,1 -0.75,0A0.75,0.75 0 1,1 0.75,0Z",
        "M-6.8,0H-5.3M-4.6,0H-3.1M-2.4,0H-0.9M0.9,0H2.4M3.1,0H4.6M5.3,0H6.8M-0.7,-0.7H0.7V0.7H-0.7Z",
        "M-6.8,0H-5.3M-4.6,0H-3.1M-2.4,0H-0.9M0.9,0H2.4M3.1,0H4.6M5.3,0H6.8M0,-0.85L0.8,0.6H-0.8Z",
        "M-6.8,0H-5.3M-4.6,0H-3.1M-2.4,0H-0.9M0.9,0H2.4M3.1,0H4.6M5.3,0H6.8M0.75,0A0.75,0.75 0 1,1 -0.75,0A0.75,0.75 0 1,1 0.75,0Z"]},
        "legend": {"orient": "none", "legendX": 292, "legendY": 72, "title": null, "symbolSize": 100, "labelFontSize": 17.5, "labelOffset": 30, "rowPadding": 1, "labelExpr": "'Ab=' + substring(datum.label, 1) + ' mm'", "encode": {"symbols": {"update": {"stroke": {"value": "black"}, "strokeWidth": {"value": 1.5}, "opacity": {"value": 1}}}}}},
      "fill": {"field": "s", "type": "nominal", "scale": {"domain": ["A2.5", "A5.0", "A9.1", "P2.5", "P5.0", "P9.1"], "range": ["black", "black", "black", "white", "white", "white"]},
        "legend": {"orient": "none", "legendX": 292, "legendY": 72, "title": null, "symbolSize": 100, "labelFontSize": 17.5, "labelOffset": 30, "rowPadding": 1, "labelExpr": "'Ab=' + substring(datum.label, 1) + ' mm'", "encode": {"symbols": {"update": {"stroke": {"value": "black"}, "strokeWidth": {"value": 1.5}, "opacity": {"value": 1}}}}}}
     }}
  ],
  "resolve": {"scale": {"y": "independent", "shape": "independent", "fill": "independent"}, "axis": {"x": "independent"}}
},
{
  "width": 454, "height": 237,
  "data": {"name": "b"},
  "title": {"text": "(b) Sharp edge", "orient": "bottom", "frame": "group", "font": "Liberation Serif", "fontSize": 18, "fontWeight": "normal", "color": "black", "offset": 12},
  "layer": [
    {"transform": [{"filter": "datum.s[0] == 'A'"}],
     "layer": [
      {"mark": {"type": "line", "color": "black", "strokeWidth": 1.6},
       "encoding": {
        "x": {"field": "x", "type": "quantitative", "scale": {"domain": [0.25, 0.75], "nice": false, "zero": false}, "axis": {"orient": "bottom", "values": [0.3, 0.4, 0.5, 0.6, 0.7], "format": ".1f", "tickSize": 6, "tickColor": "black", "ticks": true, "domain": false, "labelPadding": 8, "title": "ω²Bg·g⁻¹", "titlePadding": 5}},
        "y": {"field": "v", "type": "quantitative", "scale": {"domain": [0, 20], "nice": false}, "axis": {"orient": "left", "values": [0, 5, 10, 15, 20], "tickSize": 6, "tickColor": "black", "ticks": true, "domain": false, "labelPadding": 5, "title": "Ag·Ab⁻¹", "titlePadding": 5}},
        "detail": {"field": "s", "type": "nominal"}}},
      {"mark": {"type": "point", "filled": true, "color": "black", "opacity": 1, "size": 40},
       "encoding": {
        "x": {"field": "x", "type": "quantitative", "axis": {"orient": "bottom", "values": [0.26, 0.28, 0.32, 0.34, 0.36, 0.38, 0.42, 0.44, 0.46, 0.48, 0.52, 0.54, 0.56, 0.58, 0.62, 0.64, 0.66, 0.68, 0.72, 0.74], "tickSize": 3.5, "tickColor": "black", "ticks": true, "labels": false, "domain": false, "title": null}},
        "y": {"field": "v", "type": "quantitative", "axis": {"orient": "left", "values": [1, 2, 3, 4, 6, 7, 8, 9, 11, 12, 13, 14, 16, 17, 18, 19], "tickSize": 3.5, "tickColor": "black", "ticks": true, "labels": false, "domain": false, "title": null}},
        "shape": {"field": "s", "type": "nominal", "scale": {"domain": ["A2.5", "A5.0", "A9.1"], "range": ["square", "triangle-up", "circle"]}, "legend": null}}}
     ],
     "resolve": {"axis": {"x": "independent", "y": "independent"}}},
    {"transform": [{"filter": "datum.s[0] == 'P'"}],
     "layer": [
      {"mark": {"type": "line", "color": "black", "strokeWidth": 1.2, "strokeDash": [5, 3]},
       "encoding": {
        "x": {"field": "x", "type": "quantitative", "axis": null},
        "y": {"field": "v", "type": "quantitative", "scale": {"domain": [-2, 2], "nice": false}, "axis": {"orient": "right", "values": [-2, -1, 0, 1, 2], "tickSize": 6, "tickColor": "black", "ticks": true, "domain": false, "labelPadding": 1, "title": "φg·π⁻¹", "titleAngle": 90, "titlePadding": 2}},
        "detail": {"field": "s", "type": "nominal"}}},
      {"mark": {"type": "point", "filled": true, "fill": "white", "stroke": "black", "strokeWidth": 1, "opacity": 1, "size": 45},
       "encoding": {
        "x": {"field": "x", "type": "quantitative", "axis": null},
        "y": {"field": "v", "type": "quantitative", "axis": {"orient": "right", "values": [-1.8, -1.6, -1.4, -1.2, -0.8, -0.6, -0.4, -0.2, 0.2, 0.4, 0.6, 0.8, 1.2, 1.4, 1.6, 1.8], "tickSize": 3.5, "tickColor": "black", "ticks": true, "labels": false, "domain": false, "title": null}},
        "shape": {"field": "s", "type": "nominal", "scale": {"domain": ["P2.5", "P5.0", "P9.1"], "range": ["square", "triangle-up", "circle"]}, "legend": null}}}
     ],
     "resolve": {"axis": {"y": "independent"}}}
  ],
  "resolve": {"scale": {"y": "independent", "shape": "independent"}, "axis": {"x": "independent"}}
},
{
  "width": 454, "height": 239,
  "data": {"name": "c"},
  "title": {"text": "(c) Concave edge #2", "orient": "bottom", "frame": "group", "font": "Liberation Serif", "fontSize": 18, "fontWeight": "normal", "color": "black", "offset": 12},
  "layer": [
    {"transform": [{"filter": "datum.s[0] == 'A'"}],
     "layer": [
      {"mark": {"type": "line", "color": "black", "strokeWidth": 1.6},
       "encoding": {
        "x": {"field": "x", "type": "quantitative", "scale": {"domain": [0.25, 0.75], "nice": false, "zero": false}, "axis": {"orient": "bottom", "values": [0.3, 0.4, 0.5, 0.6, 0.7], "format": ".1f", "tickSize": 6, "tickColor": "black", "ticks": true, "domain": false, "labelPadding": 8, "title": "ω²Bg·g⁻¹", "titlePadding": 5}},
        "y": {"field": "v", "type": "quantitative", "scale": {"domain": [0, 20], "nice": false}, "axis": {"orient": "left", "values": [0, 5, 10, 15, 20], "tickSize": 6, "tickColor": "black", "ticks": true, "domain": false, "labelPadding": 5, "title": "Ag·Ab⁻¹", "titlePadding": 5}},
        "detail": {"field": "s", "type": "nominal"}}},
      {"mark": {"type": "point", "filled": true, "color": "black", "opacity": 1, "size": 40},
       "encoding": {
        "x": {"field": "x", "type": "quantitative", "axis": {"orient": "bottom", "values": [0.26, 0.28, 0.32, 0.34, 0.36, 0.38, 0.42, 0.44, 0.46, 0.48, 0.52, 0.54, 0.56, 0.58, 0.62, 0.64, 0.66, 0.68, 0.72, 0.74], "tickSize": 3.5, "tickColor": "black", "ticks": true, "labels": false, "domain": false, "title": null}},
        "y": {"field": "v", "type": "quantitative", "axis": {"orient": "left", "values": [1, 2, 3, 4, 6, 7, 8, 9, 11, 12, 13, 14, 16, 17, 18, 19], "tickSize": 3.5, "tickColor": "black", "ticks": true, "labels": false, "domain": false, "title": null}},
        "shape": {"field": "s", "type": "nominal", "scale": {"domain": ["A2.5", "A5.0", "A9.1"], "range": ["square", "triangle-up", "circle"]}, "legend": null}}}
     ],
     "resolve": {"axis": {"x": "independent", "y": "independent"}}},
    {"transform": [{"filter": "datum.s[0] == 'P'"}],
     "layer": [
      {"mark": {"type": "line", "color": "black", "strokeWidth": 1.2, "strokeDash": [5, 3]},
       "encoding": {
        "x": {"field": "x", "type": "quantitative", "axis": null},
        "y": {"field": "v", "type": "quantitative", "scale": {"domain": [-2, 2], "nice": false}, "axis": {"orient": "right", "values": [-2, -1, 0, 1, 2], "tickSize": 6, "tickColor": "black", "ticks": true, "domain": false, "labelPadding": 1, "title": "φg·π⁻¹", "titleAngle": 90, "titlePadding": 2}},
        "detail": {"field": "s", "type": "nominal"}}},
      {"mark": {"type": "point", "filled": true, "fill": "white", "stroke": "black", "strokeWidth": 1, "opacity": 1, "size": 45},
       "encoding": {
        "x": {"field": "x", "type": "quantitative", "axis": null},
        "y": {"field": "v", "type": "quantitative", "axis": {"orient": "right", "values": [-1.8, -1.6, -1.4, -1.2, -0.8, -0.6, -0.4, -0.2, 0.2, 0.4, 0.6, 0.8, 1.2, 1.4, 1.6, 1.8], "tickSize": 3.5, "tickColor": "black", "ticks": true, "labels": false, "domain": false, "title": null}},
        "shape": {"field": "s", "type": "nominal", "scale": {"domain": ["P2.5", "P5.0", "P9.1"], "range": ["square", "triangle-up", "circle"]}, "legend": null}}}
     ],
     "resolve": {"axis": {"y": "independent"}}}
  ],
  "resolve": {"scale": {"y": "independent", "shape": "independent"}, "axis": {"x": "independent"}}
}
]
}
